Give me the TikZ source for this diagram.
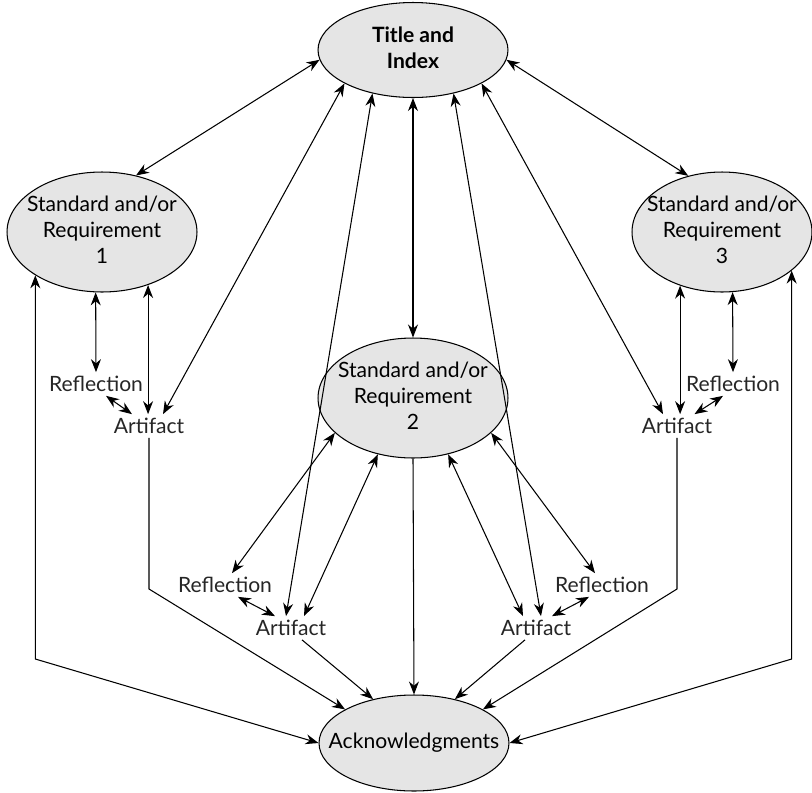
\documentclass[tikz,border=0pt]{standalone}
\usepackage{fontspec}
\setmainfont{Lato}
\usetikzlibrary{arrows.meta,shapes.geometric}
\tikzset{
  oval/.style ={ellipse,draw,fill=gray!20,inner sep=0pt,minimum width=3.8cm,minimum height=2.4cm},
  txt/.style  ={inner sep=2pt,text=black!85},
  dbl/.style  ={{Stealth[length=2.6mm,width=2mm]}-{Stealth[length=2.6mm,width=2mm]}},
  one/.style  ={-{Stealth[length=2.6mm,width=2mm]}},
}
\newcommand{\ovaltext}[1]{\makebox[2cm]{\begin{tabular}{@{}c@{}}#1\end{tabular}}}

\begin{document}
\begin{tikzpicture}[x=0.02cm,y=-0.02cm,font=\fontsize{12}{14.8}\selectfont,line width=0.6pt]
  \useasboundingbox (0,0) rectangle (812,792);
  % the ovals
  \node[oval,minimum height=1.9cm,font=\fontsize{12}{14.8}\selectfont\bfseries] (title) at (413,50) {\ovaltext{Title and\\Index}};
  \node[oval] (req1) at (102,232) {\ovaltext{Standard and/or\\Requirement\\1}};
  \node[oval] (req2) at (413,398) {\ovaltext{Standard and/or\\Requirement\\2}};
  \node[oval,minimum width=3.6cm] (req3) at (722,232) {\ovaltext{Standard and/or\\Requirement\\3}};
  \node[oval,minimum height=1.92cm] (ack) at (414,743) {\ovaltext{Acknowledgments}};
  % evidence
  \node[txt] (refl1) at (96,384) {Reflection};
  \node[txt] (art1) at (149,426) {Artifact};
  \node[txt] (refl2a) at (225,585) {Reflection};
  \node[txt] (art2a) at (291,628) {Artifact};
  \node[txt] (refl2b) at (602,585) {Reflection};
  \node[txt] (art2b) at (536,628) {Artifact};
  \node[txt] (refl3) at (733,384) {Reflection};
  \node[txt] (art3) at (677,426) {Artifact};
  \coordinate (bendL) at (36,659);
  \coordinate (bendR) at (791,659);
  \coordinate (bendK) at (0,589);
  % title links
  \draw[dbl] (title.186) -- (req1.59);
  \draw[dbl] (title.354) -- (req3.121);
  \draw[dbl] (title.south) -- (req2.north);
  \draw[dbl] (title.206) -- ([xshift=0.28cm]art1.north);
  \draw[dbl] (title.227) -- ([xshift=-0.1cm]art2a.north);
  \draw[dbl] (title.313) -- ([xshift=0.1cm]art2b.north);
  \draw[dbl] (title.334) -- ([xshift=-0.28cm]art3.north);
  % requirement 1
  \draw[dbl] (req1.264) -- (refl1.north);
  \draw[dbl] (req1.311) -- (req1.311 |- art1.north);
  \draw[dbl] ([xshift=0.2cm]refl1.south) -- ([xshift=-0.34cm]art1.north);
  \draw[dbl] (req1.213) -- (req1.213 |- bendL) -- (ack.west);
  \draw[one] (art1.south) -- (art1.south |- bendK) -- (ack.154);
  % requirement 2
  \draw[one] (req2.south) -- (ack.north);
  \draw[dbl] (req2.204) -- ([xshift=0.14cm]refl2a.north);
  \draw[dbl] (req2.238) -- ([xshift=0.26cm]art2a.north);
  \draw[dbl] ([xshift=0.26cm]refl2a.south) -- ([xshift=-0.32cm]art2a.north);
  \draw[one] ([xshift=0.22cm]art2a.south) -- (ack.133);
  \draw[dbl] (req2.336) -- ([xshift=-0.14cm]refl2b.north);
  \draw[dbl] (req2.302) -- ([xshift=-0.26cm]art2b.north);
  \draw[dbl] ([xshift=-0.26cm]refl2b.south) -- ([xshift=0.32cm]art2b.north);
  \draw[one] ([xshift=-0.22cm]art2b.south) -- (ack.47);
  % requirement 3
  \draw[dbl] (req3.280) -- (refl3.north);
  \draw[dbl] (req3.232) -- (req3.232 |- art3.north);
  \draw[dbl] ([xshift=-0.2cm]refl3.south) -- ([xshift=0.35cm]art3.north);
  \draw[dbl] (req3.331) -- (req3.331 |- bendR) -- (ack.east);
  \draw[one] (art3.south) -- (art3.south |- bendK) -- (ack.26);
\end{tikzpicture}
\end{document}
